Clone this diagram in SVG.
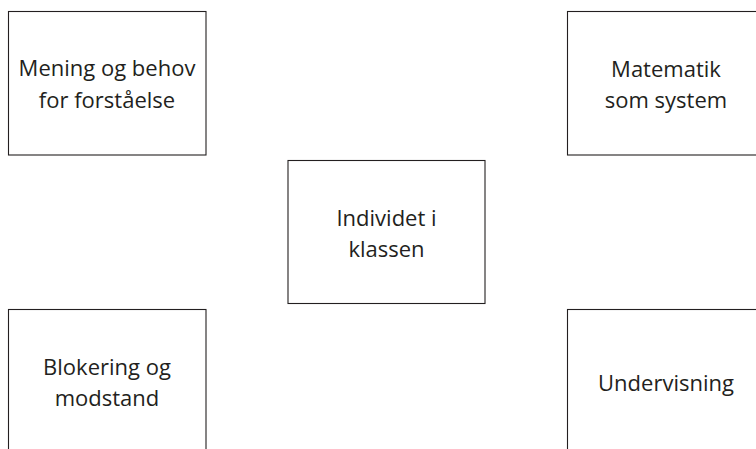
<svg xmlns="http://www.w3.org/2000/svg" width="756" height="449" viewBox="0 0 756 449">
<style>
.box{fill:#fff;stroke:#231f20;stroke-width:1.1}
.t{font-family:"Open Sans","Liberation Sans",sans-serif;font-size:22px;fill:#231f20;text-anchor:middle}
</style>
<rect width="756" height="449" fill="#fff"/>
<g id="mening">
<rect class="box" x="8.5" y="11.5" width="197.5" height="143.5"/>
<text class="t" x="107" y="76">Mening og behov</text>
<text class="t" x="107" y="108">for forståelse</text>
</g>
<g id="matematik">
<rect class="box" x="567.5" y="11.5" width="197.5" height="143.5"/>
<text class="t" x="666" y="77">Matematik</text>
<text class="t" x="666" y="108">som system</text>
</g>
<g id="individet">
<rect class="box" x="288" y="160.5" width="197" height="143"/>
<text class="t" x="386.5" y="226">Individet i</text>
<text class="t" x="386.5" y="257">klassen</text>
</g>
<g id="blokering">
<rect class="box" x="8.5" y="309.5" width="197.5" height="150"/>
<text class="t" x="107" y="375">Blokering og</text>
<text class="t" x="107" y="406">modstand</text>
</g>
<g id="undervisning">
<rect class="box" x="567.5" y="309.5" width="197.5" height="150"/>
<text class="t" x="666" y="391">Undervisning</text>
</g>
<g id="connectors"></g>
</svg>
